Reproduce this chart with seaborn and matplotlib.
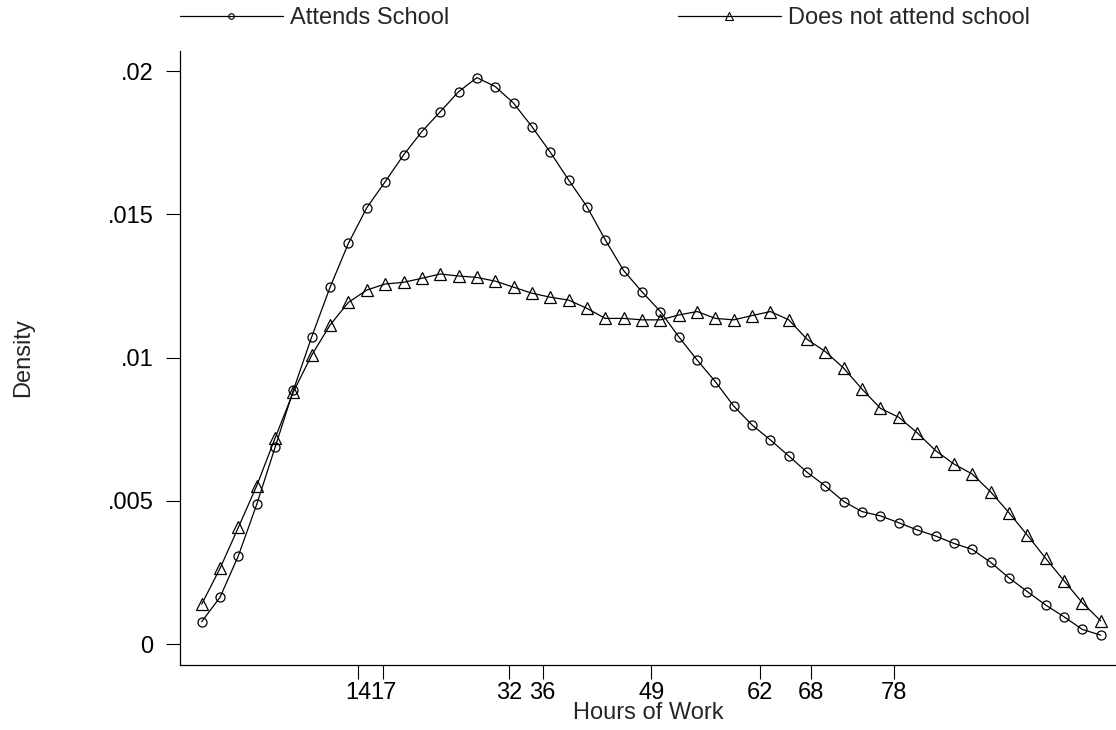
import numpy as np
import pandas as pd
import seaborn as sns
import matplotlib.pyplot as plt
from matplotlib.lines import Line2D

# evaluation points of the kernel density (hours of work)
hours = [-4.70, -2.51, -0.32, 1.87, 4.06, 6.25, 8.44, 10.63, 12.82, 15.01,
         17.21, 19.40, 21.59, 23.78, 25.97, 28.16, 30.35, 32.54, 34.73, 36.92,
         39.11, 41.30, 43.49, 45.68, 47.87, 50.07, 52.26, 54.45, 56.64, 58.83,
         61.02, 63.21, 65.40, 67.59, 69.78, 71.97, 74.16, 76.35, 78.54, 80.73,
         82.92, 85.12, 87.31, 89.50, 91.69, 93.88, 96.07, 98.26, 100.45, 102.64]

attends = [0.00079, 0.00164, 0.00309, 0.00488, 0.00687, 0.00887, 0.01073, 0.01246, 0.01399, 0.01523,
           0.01614, 0.01707, 0.01789, 0.01858, 0.01928, 0.01977, 0.01946, 0.01888, 0.01806, 0.01717,
           0.01620, 0.01527, 0.01411, 0.01304, 0.01230, 0.01161, 0.01073, 0.00992, 0.00916, 0.00831,
           0.00765, 0.00713, 0.00657, 0.00600, 0.00552, 0.00498, 0.00463, 0.00448, 0.00424, 0.00399,
           0.00378, 0.00352, 0.00331, 0.00286, 0.00232, 0.00184, 0.00137, 0.00096, 0.00052, 0.00032]

not_attends = [0.00140, 0.00265, 0.00408, 0.00553, 0.00719, 0.00881, 0.01009, 0.01114, 0.01193, 0.01236,
               0.01257, 0.01263, 0.01277, 0.01292, 0.01285, 0.01280, 0.01267, 0.01246, 0.01225, 0.01211,
               0.01201, 0.01172, 0.01137, 0.01137, 0.01132, 0.01132, 0.01149, 0.01161, 0.01137, 0.01132,
               0.01147, 0.01161, 0.01132, 0.01064, 0.01021, 0.00963, 0.00890, 0.00823, 0.00792, 0.00738,
               0.00676, 0.00629, 0.00594, 0.00532, 0.00459, 0.00381, 0.00300, 0.00222, 0.00145, 0.00082]

labels = ['Attends School', 'Does not attend school']
xticks = [14, 17, 32, 36, 49, 62, 68, 78]
yticks = [0, 0.005, 0.01, 0.015, 0.02]
ytick_labels = ['0', '.005', '.01', '.015', '.02']

df_a = pd.DataFrame({'hours': hours, 'density': attends})
df_n = pd.DataFrame({'hours': hours, 'density': not_attends})

sns.set_style('ticks')
plt.rcParams['font.family'] = ['Liberation Sans', 'DejaVu Sans']

fig = plt.figure(figsize=(11.16, 7.3), dpi=100)
ax = fig.add_axes([180 / 1116, 65 / 730, 936 / 1116, 614 / 730])

line_kw = dict(color='black', linewidth=0.9, markerfacecolor='none',
               markeredgecolor='black', markeredgewidth=0.9)
sns.lineplot(data=df_a, x='hours', y='density', marker='o', markersize=6.5, ax=ax, **line_kw)
sns.lineplot(data=df_n, x='hours', y='density', marker='^', markersize=8, ax=ax, **line_kw)

ax.set_xlim(-7.29, 104.47)
ax.set_ylim(-0.000722, 0.0207)
ax.set_xticks(xticks)
ax.set_xticklabels([str(t) for t in xticks])
ax.set_yticks(yticks)
ax.set_yticklabels(ytick_labels)

ax.tick_params(axis='x', length=10, width=0.8, pad=2, labelsize=17, colors='black')
ax.tick_params(axis='y', length=10, width=0.8, pad=9, labelsize=17, colors='black')

ax.set_xlabel('Hours of Work', fontsize=17, labelpad=-1)
ax.set_ylabel('Density', fontsize=17)
ax.yaxis.set_label_coords(-0.156, 0.5)

for side in ['top', 'right']:
    ax.spines[side].set_visible(False)
for side in ['left', 'bottom']:
    ax.spines[side].set_color('black')
    ax.spines[side].set_linewidth(0.9)

handles = [Line2D([], [], color='black', lw=0.9, marker='o', markersize=4,
                  markerfacecolor='none', markeredgewidth=0.8),
           Line2D([], [], color='black', lw=0.9, marker='^', markersize=5.5,
                  markerfacecolor='none', markeredgewidth=0.8)]
fig.legend(handles, labels, ncol=2, loc='center left', bbox_to_anchor=(180 / 1116, 1 - 18 / 730),
           frameon=False, fontsize=17, handlelength=4.35, handletextpad=0.3,
           columnspacing=9.7, borderpad=0, borderaxespad=0, numpoints=1)

fig.savefig('out.png', dpi=100)
